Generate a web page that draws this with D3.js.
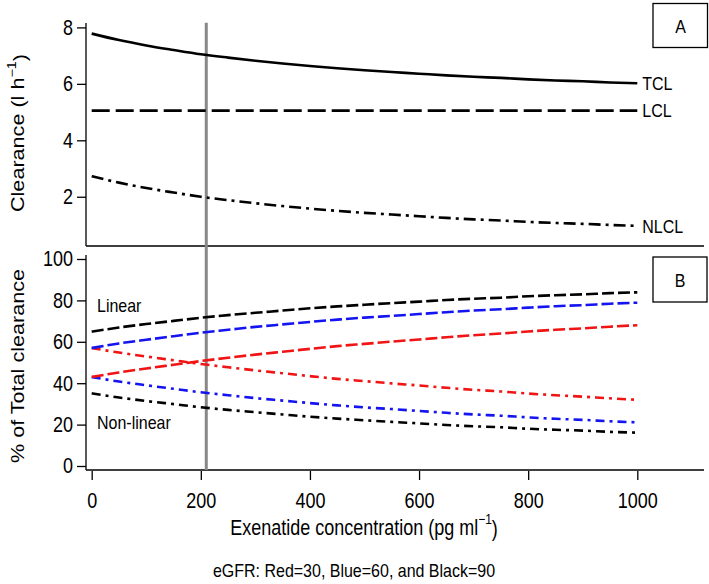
<!DOCTYPE html>
<html>
<head>
<meta charset="utf-8">
<script src="https://cdn.jsdelivr.net/npm/d3@7/dist/d3.min.js"></script>
<style>
  html, body { margin: 0; padding: 0; background: #fff; }
  svg { display: block; font-family: Arial, "Liberation Sans", sans-serif; }
</style>
</head>
<body>
<svg id="chart" width="709" height="584"></svg>
<script>
// ---------------- DATA ----------------
const conc = [0,50,100,150,200,250,300,350,400,450,500,550,600,650,700,750,800,850,900,950,1000];
const tcl  = [7.78,7.55,7.36,7.20,7.05,6.93,6.82,6.72,6.63,6.55,6.48,6.42,6.36,6.30,6.25,6.21,6.16,6.12,6.09,6.05,6.02];
const lcl  = [5.05,5.05,5.05,5.05,5.05,5.05,5.05,5.05,5.05,5.05,5.05,5.05,5.05,5.05,5.05,5.05,5.05,5.05,5.05,5.05,5.05];
const nlcl = [2.73,2.50,2.31,2.15,2.00,1.88,1.77,1.67,1.58,1.50,1.43,1.37,1.31,1.25,1.20,1.16,1.11,1.07,1.04,1.00,0.97];

const linBlack = [64.9,66.9,68.6,70.1,71.6,72.9,74.0,75.1,76.2,77.1,77.9,78.7,79.4,80.2,80.8,81.3,82.0,82.5,82.9,83.5,83.9];
const nonBlack = [35.1,33.1,31.4,29.9,28.4,27.1,26.0,24.9,23.8,22.9,22.1,21.3,20.6,19.8,19.2,18.7,18.0,17.5,17.1,16.5,16.1];
const linBlue  = [57.0,59.2,61.0,62.7,64.4,65.8,67.2,68.4,69.6,70.7,71.7,72.5,73.4,74.3,75.1,75.7,76.5,77.2,77.7,78.4,78.9];
const nonBlue  = [43.0,40.8,39.0,37.3,35.6,34.2,32.8,31.6,30.4,29.3,28.3,27.5,26.6,25.7,24.9,24.3,23.5,22.8,22.3,21.6,21.1];
const linRed   = [43.0,45.2,47.1,48.9,50.7,52.3,53.8,55.2,56.6,57.9,59.0,60.1,61.1,62.2,63.2,64.0,65.0,65.8,66.5,67.3,68.0];
const nonRed   = [57.0,54.8,52.9,51.1,49.3,47.7,46.2,44.8,43.4,42.1,41.0,39.9,38.9,37.8,36.8,36.0,35.0,34.2,33.5,32.7,32.0];

const xTicks  = [0,200,400,600,800,1000];
const yTicksA = [2,4,6,8];
const yTicksB = [0,20,40,60,80,100];
const refConc = 210;
const seriesNamesA = ["TCL","LCL","NLCL"];

// ---------------- LAYOUT ----------------
const SY = 1.2; // vertical text stretch seen in reference
const svg = d3.select("#chart");
svg.append("rect").attr("width",709).attr("height",584).attr("fill","#fff");

const x  = d3.scaleLinear().domain([0,1000]).range([91.7,637.3]);
const yA = d3.scaleLinear().domain([0,8]).range([253.2,27.4]);
const yB = d3.scaleLinear().domain([0,100]).range([466,259]);

const axisX = 86;
const FS = 18;

// frame lines
const frame = svg.append("g").attr("stroke","#000").attr("stroke-width",1.3);
frame.append("line").attr("x1",axisX).attr("x2",axisX).attr("y1",23).attr("y2",246);
frame.append("line").attr("x1",axisX).attr("x2",704).attr("y1",246).attr("y2",246);
frame.append("line").attr("x1",axisX).attr("x2",axisX).attr("y1",255).attr("y2",470);
frame.append("line").attr("x1",axisX).attr("x2",704).attr("y1",470).attr("y2",470);

function styleAxis(g){
  g.select(".domain").remove();
  g.selectAll("line").attr("stroke","#000").attr("stroke-width",1.3);
  g.selectAll("text").attr("font-size",FS).attr("fill","#000")
    .attr("font-family","Arial, 'Liberation Sans', sans-serif");
}

// y axes
const gA = svg.append("g").attr("transform",`translate(${axisX},0)`)
  .call(d3.axisLeft(yA).tickValues(yTicksA).tickFormat(d3.format("d")).tickSize(9).tickPadding(4));
styleAxis(gA);
gA.selectAll("text").attr("transform",`scale(1,${SY})`);

const gB = svg.append("g").attr("transform",`translate(${axisX},0)`)
  .call(d3.axisLeft(yB).tickValues(yTicksB).tickFormat(d3.format("d")).tickSize(9).tickPadding(4));
styleAxis(gB);
gB.selectAll("text").attr("transform",`scale(1,${SY})`);

// x axis
const gX = svg.append("g").attr("transform",`translate(0,471)`)
  .call(d3.axisBottom(x).tickValues(xTicks).tickFormat(d3.format("d")).tickSize(9).tickPadding(9));
styleAxis(gX);
gX.selectAll("text").attr("transform",`scale(1,${SY})`);

// reference vertical line
svg.append("line")
  .attr("x1",x(refConc)).attr("x2",x(refConc))
  .attr("y1",22.7).attr("y2",470)
  .attr("stroke","#888").attr("stroke-width",3);

// ---------------- LINES ----------------
const lineA = (vals) => d3.line().x((d,i)=>x(conc[i])).y(d=>yA(d)).curve(d3.curveMonotoneX)(vals);
const lineB = (vals) => d3.line().x((d,i)=>x(conc[i])).y(d=>yB(d)).curve(d3.curveMonotoneX)(vals);

const seriesA = [
  {vals: tcl,  dash: null,          name: seriesNamesA[0]},
  {vals: lcl,  dash: "18,6",        name: seriesNamesA[1]},
  {vals: nlcl, dash: "12,5,3,5",    name: seriesNamesA[2]}
];
seriesA.forEach(s=>{
  svg.append("path").attr("d",lineA(s.vals)).attr("fill","none")
    .attr("stroke","#000").attr("stroke-width",2.6)
    .attr("stroke-dasharray",s.dash);
  svg.append("text")
    .attr("transform",`translate(${x(1000)+5},${yA(s.vals[s.vals.length-1])}) scale(1,${SY})`)
    .attr("dy","0.35em").attr("font-size",16).text(s.name);
});

const RED = "#f01414", BLUE = "#1414f0", BLACK = "#000";
const seriesB = [
  {vals: nonRed,   color: RED,   dash: "9,5,3,5"},
  {vals: nonBlue,  color: BLUE,  dash: "9,5,3,5"},
  {vals: nonBlack, color: BLACK, dash: "9,5,3,5"},
  {vals: linRed,   color: RED,   dash: "12,4"},
  {vals: linBlue,  color: BLUE,  dash: "12,4"},
  {vals: linBlack, color: BLACK, dash: "12,4"}
];
seriesB.forEach(s=>{
  svg.append("path").attr("d",lineB(s.vals)).attr("fill","none")
    .attr("stroke",s.color).attr("stroke-width",2.6)
    .attr("stroke-dasharray",s.dash);
});

// ---------------- TEXT ----------------
function txt(xp, yp, str, opts={}){
  const t = svg.append("text")
    .attr("transform",`translate(${xp},${yp}) scale(1,${SY})${opts.rot?" rotate(-90)":""}`)
    .attr("font-size",opts.fs||FS)
    .attr("text-anchor",opts.anchor||"start")
    .attr("dy",opts.dy||"0.35em")
    .attr("fill","#000");
  return t;
}

txt(97,305,"",{fs:16}).text("Linear");
txt(97,422,"",{fs:16}).text("Non-linear");

// boxes
svg.append("rect").attr("x",653).attr("y",3.5).attr("width",54.5).attr("height",44)
  .attr("fill","none").attr("stroke","#000").attr("stroke-width",1.3);
txt(680.5,26,"",{fs:16,anchor:"middle"}).text("A");
svg.append("rect").attr("x",653).attr("y",257).attr("width",54).attr("height",45)
  .attr("fill","none").attr("stroke","#000").attr("stroke-width",1.3);
txt(680,280,"",{fs:16,anchor:"middle"}).text("B");

// y label A
const ylA = txt(18,133,"",{rot:true,anchor:"middle"});
ylA.append("tspan").text("Clearance (l h");
ylA.append("tspan").attr("font-size",12).attr("dy","-0.7em").text("\u22121");
ylA.append("tspan").attr("dy","0.55em").text(")");

// y label B
txt(18,366,"",{rot:true,anchor:"middle"}).text("% of Total clearance");

// x label
const xl = txt(364,527,"",{anchor:"middle"});
xl.append("tspan").text("Exenatide concentration (pg ml");
xl.append("tspan").attr("font-size",12).attr("dy","-0.7em").text("\u22121");
xl.append("tspan").attr("dy","0.55em").text(")");

// caption
txt(354,570,"",{fs:16,anchor:"middle"}).text("eGFR: Red=30, Blue=60, and Black=90");
</script>
</body>
</html>
